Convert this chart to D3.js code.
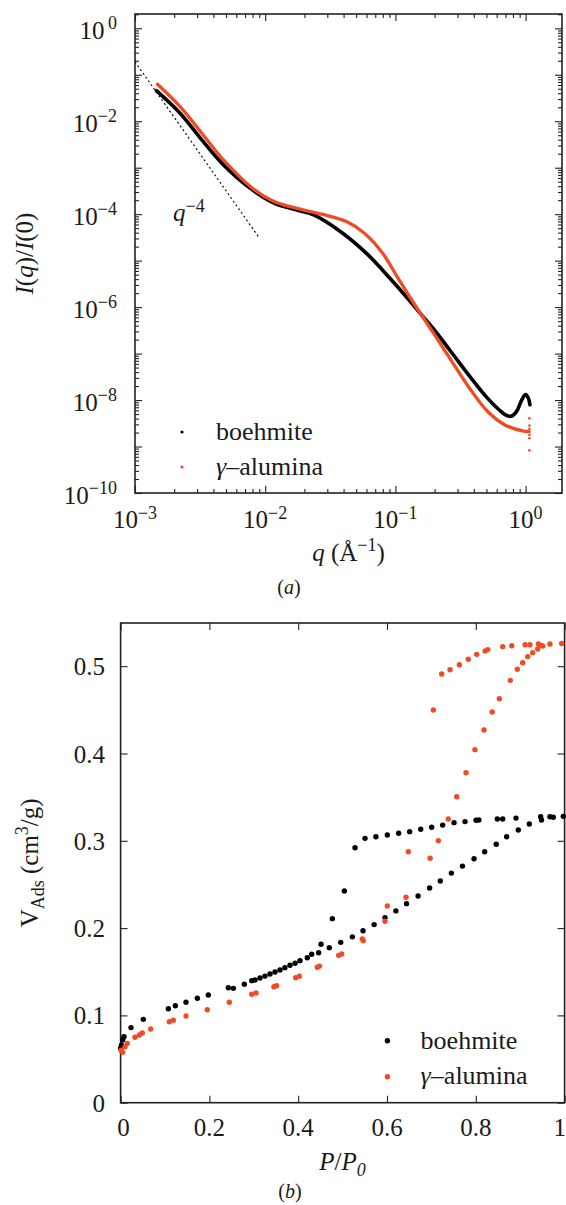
<!DOCTYPE html>
<html><head><meta charset="utf-8">
<script src="https://cdn.jsdelivr.net/npm/d3@7"></script>
<style>
body{margin:0;background:#fff}
svg{display:block}
</style>
</head><body>
<svg id="c" width="566" height="1205"></svg>
<script>
// ---------- Panel (a): SAXS ----------
const qBoehmite = [1.46e-3, 2.22e-3, 3.26e-3, 4.78e-3, 7.98e-3, 1.17e-2, 1.72e-2, 2.36e-2, 3.94e-2, 6.17e-2, 9.08e-2, 0.125, 0.158, 0.195, 0.269, 0.370, 0.509, 0.631, 0.700, 0.776, 0.851, 0.933, 1.0, 1.047, 1.08];
const iBoehmite = [4.55e-2, 1.49e-2, 3.96e-3, 1.15e-3, 3.33e-4, 1.73e-4, 1.24e-4, 9.66e-5, 3.90e-5, 1.33e-5, 4.17e-6, 1.51e-6, 6.92e-7, 3.47e-7, 1.07e-7, 3.31e-8, 1.10e-8, 6.03e-9, 4.79e-9, 4.47e-9, 5.62e-9, 1.0e-8, 1.32e-8, 1.12e-8, 7.9e-9];
const qAlumina = [1.49e-3, 2.22e-3, 3.26e-3, 4.78e-3, 7.98e-3, 1.17e-2, 1.95e-2, 2.87e-2, 4.21e-2, 5.78e-2, 7.98e-2, 0.103, 0.133, 0.195, 0.269, 0.370, 0.509, 0.700, 0.966, 1.06];
const iAlumina = [6.25e-2, 2.06e-2, 5.52e-3, 1.47e-3, 3.62e-4, 1.87e-4, 1.24e-4, 9.66e-5, 6.93e-5, 3.90e-5, 1.45e-5, 4.55e-6, 1.44e-6, 2.82e-7, 7.08e-8, 1.82e-8, 5.75e-9, 2.88e-9, 2.14e-9, 2.11e-9];
const qAluminaTail = [1.07, 1.07, 1.07, 1.07, 1.07, 1.07, 1.07];
const iAluminaTail = [4.07e-9, 2.82e-9, 2.40e-9, 2.09e-9, 1.78e-9, 1.51e-9, 8.3e-10];
const qPorod = [1.0e-3, 9.0e-3];
const iPorod = [1.9e-1, 3.1e-5];
const xDecadesA = [-3, -2, -1, 0];
const yDecadesA = [0, -2, -4, -6, -8, -10];

// ---------- Panel (b): N2 isotherm ----------
const pBoehmite = [0.000,0.002,0.0047,0.0077,0.0234,0.0511,0.1075,0.1233,0.1473,0.1729,0.1976,0.2426,0.2539,0.2787,0.2953,0.3027,0.314,0.3252,0.3365,0.3477,0.359,0.370,0.3815,0.393,0.404,0.4205,0.4304,0.446,0.4514,0.470,0.4769,0.4957,0.504,0.522,0.528,0.546,0.5505,0.571,0.575,0.5955,0.6007,0.620,0.6263,0.644,0.651,0.670,0.676,0.696,0.7006,0.720,0.7254,0.745,0.751,0.770,0.7757,0.796,0.8005,0.807,0.820,0.846,0.8485,0.8606,0.8695,0.8905,0.8957,0.9205,0.946,0.948,0.967,0.9745,0.997];
const vBoehmite = [0.0623,0.066,0.0718,0.0756,0.086,0.0955,0.1077,0.1111,0.115,0.1196,0.1234,0.1317,0.131,0.1356,0.1398,0.1406,0.1428,0.145,0.1474,0.1497,0.152,0.1547,0.1574,0.1597,0.1627,0.166,0.170,0.1718,0.1815,0.1776,0.2108,0.1837,0.2425,0.190,0.292,0.197,0.3028,0.204,0.3047,0.212,0.3066,0.2197,0.3086,0.228,0.3105,0.2367,0.3132,0.246,0.3155,0.254,0.318,0.263,0.3208,0.271,0.322,0.2795,0.3235,0.3238,0.2875,0.296,0.325,0.325,0.3047,0.326,0.3124,0.3193,0.3276,0.3238,0.3276,0.327,0.328];
const pAlumina = [0.001,0.0047,0.0099,0.0151,0.0324,0.0422,0.0489,0.0677,0.1097,0.1187,0.1473,0.1953,0.2448,0.2953,0.305,0.3453,0.3513,0.3943,0.4025,0.443,0.448,0.4912,0.498,0.5444,0.5466,0.5955,0.6007,0.6428,0.648,0.697,0.7043,0.7156,0.7232,0.738,0.742,0.757,0.763,0.778,0.783,0.798,0.802,0.8185,0.821,0.827,0.837,0.853,0.8606,0.8777,0.881,0.8935,0.9056,0.911,0.917,0.922,0.928,0.9394,0.941,0.947,0.9507,0.967,0.9935];
const vAlumina = [0.060,0.0577,0.0641,0.068,0.0749,0.0776,0.0798,0.0844,0.0928,0.0944,0.0993,0.1065,0.115,0.1242,0.1257,0.1329,0.134,0.1432,0.1448,0.1552,0.1565,0.1688,0.1703,0.1875,0.1856,0.2078,0.2253,0.2353,0.2875,0.280,0.4498,0.300,0.491,0.325,0.496,0.3505,0.5017,0.378,0.508,0.4044,0.5136,0.427,0.5175,0.519,0.4475,0.4628,0.5224,0.4838,0.5235,0.4965,0.504,0.5246,0.511,0.5246,0.5155,0.5197,0.5254,0.5239,0.5232,0.5254,0.526];
const xTicksB = [0, 0.2, 0.4, 0.6, 0.8, 1];
const xTickLabelsB = ["0", "0.2", "0.4", "0.6", "0.8", "1"];
const yTicksB = [0, 0.1, 0.2, 0.3, 0.4, 0.5];
const yTickLabelsB = ["0", "0.1", "0.2", "0.3", "0.4", "0.5"];

const RED = "#ef4b24", BLK = "#000";
const FONT = "Liberation Serif";
const svg = d3.select("#c");
const FS = 25;
function T(g, size) {
  return g.append("text").attr("font-family", FONT).attr("font-size", size || FS).attr("fill", "#1a1a1a");
}

// ================= Panel (a) =================
const A = {l:135, r:562, t:14, b:493};
const xA = d3.scaleLog().domain([1e-3, Math.pow(10, (A.r - A.l) / 130.2 - 3)]).range([A.l, A.r]);
const yA = d3.scaleLog().domain([1e-10, Math.pow(10, (28.3 - A.t) / 46.5)]).range([A.b, A.t]);
const gA = svg.append("g");

function logTicks(scale) {
  const [d0, d1] = scale.domain();
  const maj = [], min = [];
  for (let e = Math.floor(Math.log10(d0)); e <= Math.ceil(Math.log10(d1)); e++) {
    for (let m = 1; m <= 9; m++) {
      const v = m * Math.pow(10, e);
      if (v < d0 * 0.9999 || v > d1 * 1.0001) continue;
      (m === 1 ? maj : min).push(v);
    }
  }
  return {maj, min};
}
const txA = logTicks(xA), tyA = logTicks(yA);
function axisSet(g, scale, ticks, ori, pos, len) {
  const gen = ori === "bottom" ? d3.axisBottom(scale) : ori === "top" ? d3.axisTop(scale) : ori === "left" ? d3.axisLeft(scale) : d3.axisRight(scale);
  gen.tickValues(ticks).tickSizeInner(-len).tickSizeOuter(0).tickFormat("");
  const ax = g.append("g").attr("transform", pos).call(gen);
  ax.select(".domain").remove();
  ax.selectAll("text").remove();
  ax.selectAll("line").attr("stroke", "#222").attr("stroke-width", 1.1);
  return ax;
}
axisSet(gA, xA, txA.maj, "bottom", `translate(0,${A.b})`, 7);
axisSet(gA, xA, txA.min, "bottom", `translate(0,${A.b})`, 4);
axisSet(gA, xA, txA.maj, "top", `translate(0,${A.t})`, 7);
axisSet(gA, xA, txA.min, "top", `translate(0,${A.t})`, 4);
axisSet(gA, yA, tyA.maj, "left", `translate(${A.l},0)`, 7);
axisSet(gA, yA, tyA.min, "left", `translate(${A.l},0)`, 4);
axisSet(gA, yA, tyA.maj, "right", `translate(${A.r},0)`, 7);
axisSet(gA, yA, tyA.min, "right", `translate(${A.r},0)`, 4);
gA.append("rect").attr("x", A.l).attr("y", A.t).attr("width", A.r - A.l).attr("height", A.b - A.t)
  .attr("fill", "none").attr("stroke", "#222").attr("stroke-width", 1.6);

function minusStr(e){ return e < 0 ? "\u2212" + (-e) : String(e); }
xDecadesA.forEach(e => {
  const t = T(gA).attr("x", xA(Math.pow(10, e))).attr("y", A.b + 35).attr("text-anchor", "middle");
  t.append("tspan").text("10");
  t.append("tspan").attr("dy", -9).attr("font-size", 18).text(minusStr(e));
});
yDecadesA.forEach(e => {
  const t = T(gA).attr("x", 117).attr("y", yA(Math.pow(10, e)) + 10.5).attr("text-anchor", "end");
  t.append("tspan").text("10");
  t.append("tspan").attr("dy", -10).attr("font-size", 18).text((e === 0 ? "\u2009" : "") + minusStr(e));
});

svg.append("clipPath").attr("id", "clipA").append("rect")
  .attr("x", A.l).attr("y", A.t).attr("width", A.r - A.l).attr("height", A.b - A.t);
const plotA = gA.append("g").attr("clip-path", "url(#clipA)");
const lineA = d3.line().x(d => xA(d[0])).y(d => yA(d[1])).curve(d3.curveCatmullRom.alpha(0.5));
plotA.append("path").datum(d3.zip(qPorod, iPorod)).attr("d", d3.line().x(d => xA(d[0])).y(d => yA(d[1])))
  .attr("fill", "none").attr("stroke", "#111").attr("stroke-width", 1.2).attr("stroke-dasharray", "2,2.6");
plotA.append("path").datum(d3.zip(qBoehmite, iBoehmite)).attr("d", lineA)
  .attr("fill", "none").attr("stroke", BLK).attr("stroke-width", 3.6).attr("stroke-linecap", "round");
plotA.append("path").datum(d3.zip(qAlumina, iAlumina)).attr("d", lineA)
  .attr("fill", "none").attr("stroke", RED).attr("stroke-width", 3.3).attr("stroke-linecap", "round");
plotA.selectAll("circle.tail").data(d3.zip(qAluminaTail, iAluminaTail)).join("circle")
  .attr("cx", d => xA(d[0])).attr("cy", d => yA(d[1])).attr("r", 1.3).attr("fill", RED);

const ann = T(gA).attr("x", 173).attr("y", 221);
ann.append("tspan").attr("font-style", "italic").text("q");
ann.append("tspan").attr("dy", -9).attr("font-size", 18).text("\u22124");

gA.append("circle").attr("cx", 182).attr("cy", 432).attr("r", 1.6).attr("fill", BLK);
gA.append("circle").attr("cx", 182).attr("cy", 467).attr("r", 1.6).attr("fill", RED);
T(gA, 26).attr("x", 216).attr("y", 439.5).text("boehmite");
const lgA = T(gA, 26).attr("x", 216).attr("y", 475);
lgA.append("tspan").attr("font-style", "italic").text("\u03b3");
lgA.append("tspan").text("\u2013alumina");

const xtA = T(gA).attr("x", (A.l + A.r) / 2).attr("y", 561).attr("text-anchor", "middle");
xtA.append("tspan").attr("font-style", "italic").text("q");
xtA.append("tspan").text(" (\u00c5");
xtA.append("tspan").attr("dy", -10).attr("font-size", 18).text("\u22121");
xtA.append("tspan").attr("dy", 10).text(")");
const ytA = T(gA).attr("transform", `translate(33,${(A.t + A.b) / 2}) rotate(-90)`).attr("text-anchor", "middle");
ytA.append("tspan").attr("font-style", "italic").text("I");
ytA.append("tspan").text("(");
ytA.append("tspan").attr("font-style", "italic").text("q");
ytA.append("tspan").text(")/");
ytA.append("tspan").attr("font-style", "italic").text("I");
ytA.append("tspan").text("(0)");
const capA = T(gA, 20).attr("x", 289).attr("y", 594).attr("text-anchor", "middle");
capA.append("tspan").text("(");
capA.append("tspan").attr("font-style", "italic").text("a");
capA.append("tspan").text(")");

// ================= Panel (b) =================
const B = {l:120.6, r:564.6, t:623, b:1102.7};
const xB = d3.scaleLinear().domain([0, 1]).range([B.l, B.r]);
const yB = d3.scaleLinear().domain([0, 0.55]).range([B.b, B.b - 0.55 * 873]);
const gB = svg.append("g");
axisSet(gB, xB, xTicksB, "bottom", `translate(0,${B.b})`, 7);
axisSet(gB, xB, xTicksB, "top", `translate(0,${B.t})`, 7);
axisSet(gB, yB, yTicksB, "left", `translate(${B.l},0)`, 7);
axisSet(gB, yB, yTicksB, "right", `translate(${B.r},0)`, 7);
gB.append("rect").attr("x", B.l).attr("y", B.t).attr("width", B.r - B.l).attr("height", B.b - B.t)
  .attr("fill", "none").attr("stroke", "#222").attr("stroke-width", 1.6);
xTicksB.forEach((v, i) => {
  const last = i === xTicksB.length - 1;
  T(gB).attr("x", last ? 566 : xB(v) + (i === 0 ? 3 : 0)).attr("y", B.b + 33.5)
    .attr("text-anchor", last ? "end" : "middle").text(xTickLabelsB[i]);
});
yTicksB.forEach((v, i) => {
  T(gB).attr("x", 105).attr("y", yB(v) + 9).attr("text-anchor", "end").text(yTickLabelsB[i]);
});
gB.selectAll("circle.b").data(d3.zip(pBoehmite, vBoehmite)).join("circle").attr("class", "b")
  .attr("cx", d => xB(d[0])).attr("cy", d => yB(d[1])).attr("r", 2.7).attr("fill", BLK);
gB.selectAll("circle.g").data(d3.zip(pAlumina, vAlumina)).join("circle").attr("class", "g")
  .attr("cx", d => xB(d[0])).attr("cy", d => yB(d[1])).attr("r", 2.7).attr("fill", RED);

gB.append("circle").attr("cx", 387.4).attr("cy", 1040.7).attr("r", 2.7).attr("fill", BLK);
gB.append("circle").attr("cx", 387.4).attr("cy", 1076.7).attr("r", 2.7).attr("fill", RED);
T(gB, 26).attr("x", 420.6).attr("y", 1049).text("boehmite");
const lgB = T(gB, 26).attr("x", 420.6).attr("y", 1084);
lgB.append("tspan").attr("font-style", "italic").text("\u03b3");
lgB.append("tspan").text("\u2013alumina");

const xtB = T(gB).attr("x", (B.l + B.r) / 2).attr("y", 1170).attr("text-anchor", "middle");
xtB.append("tspan").attr("font-style", "italic").text("P");
xtB.append("tspan").text("/");
xtB.append("tspan").attr("font-style", "italic").text("P");
xtB.append("tspan").attr("dy", 6).attr("font-size", 18).attr("font-style", "italic").text("0");
const ytB = T(gB).attr("transform", `translate(38,${(B.t + B.b) / 2}) rotate(-90)`).attr("text-anchor", "middle");
ytB.append("tspan").text("V");
ytB.append("tspan").attr("dy", 6).attr("font-size", 18).text("Ads");
ytB.append("tspan").attr("dy", -6).text(" (cm");
ytB.append("tspan").attr("dy", -10).attr("font-size", 18).text("3");
ytB.append("tspan").attr("dy", 10).text("/g)");
const capB = T(gB, 20).attr("x", 290).attr("y", 1198).attr("text-anchor", "middle");
capB.append("tspan").text("(");
capB.append("tspan").attr("font-style", "italic").text("b");
capB.append("tspan").text(")");
</script>
</body></html>
